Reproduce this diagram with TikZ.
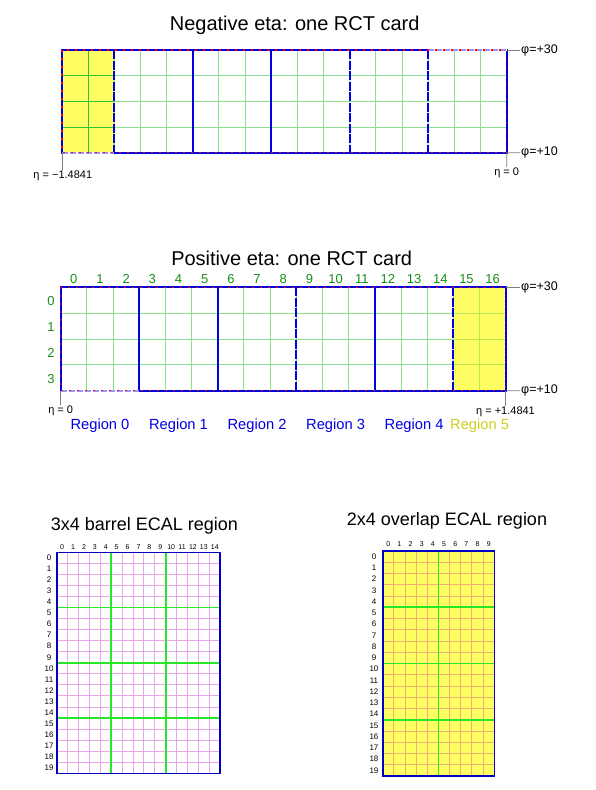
\documentclass[tikz,border=0pt]{standalone}
\usepackage{fontspec}
\setmainfont{Liberation Sans}
\usetikzlibrary{positioning,calc}
\definecolor{regblue}{RGB}{0,0,225}
\definecolor{paleblue}{RGB}{150,150,255}
\definecolor{cardyellow}{RGB}{255,255,100}
\definecolor{litegreen}{RGB}{140,225,140}
\definecolor{midgreen}{RGB}{50,195,50}
\definecolor{limegreen}{RGB}{185,235,80}
\definecolor{labgreen}{RGB}{25,140,25}
\definecolor{olive}{RGB}{205,205,30}
\definecolor{pinkgrid}{RGB}{235,165,235}
\definecolor{ecalgreen}{RGB}{40,230,40}
\definecolor{salmon}{RGB}{240,175,115}
\definecolor{ecalblue}{RGB}{0,0,190}

\begin{document}
\begin{tikzpicture}[x=1pt, y=-1pt,
    regline/.style={regblue, line width=2pt},
    reggap/.style={regblue, line width=2pt, dash pattern=on 9pt off 1.5pt},
    paleedge/.style={paleblue, line width=2pt, dash pattern=on 6pt off 2pt},
    redtick/.style={red, line width=1.3pt, dash pattern=on 1.5pt off 6.5pt},
    tickline/.style={gray, line width=0.8pt},
    gridline/.style={line width=1pt},
    titlelab/.style={font=\fontsize{20}{24}\selectfont, anchor=base},
    ecaltitle/.style={font=\fontsize{18}{21}\selectfont, anchor=base},
    philab/.style={font=\fontsize{12.5}{14}\selectfont, anchor=west, inner sep=1pt},
    etalab/.style={font=\fontsize{11}{13}\selectfont, inner sep=1pt},
    cardnum/.style={labgreen, font=\fontsize{13}{15}\selectfont},
    reglab/.style={font=\fontsize{14.7}{17}\selectfont, anchor=base},
    ecalnum/.style={font=\fontsize{7}{8}\selectfont, inner sep=0pt},
    ecalrow/.style={font=\fontsize{8}{9}\selectfont, inner sep=0pt},
    ecalline/.style={ecalgreen, line width=1.6pt},
    ecalbox/.style={ecalblue, line width=1.6pt}]
    \useasboundingbox (0,0) rectangle (596,790);

    % Negative eta: one RCT card (17 x 4 towers)
    \node[titlelab] (negtitle) at (294.7,30) {Negative eta: one RCT card};
    \begin{scope}[shift={(62,50)}, x=26.16pt, y=-25.67pt]
        \fill[cardyellow] (0,0) rectangle (2,4);
        \foreach \i in {2,...,16} \draw[gridline, litegreen] (\i,0) -- (\i,4);
        \foreach \j in {1,2,3} \draw[gridline, litegreen] (2,\j) -- (17,\j);
        \draw[gridline, midgreen] (1,0) -- (1,4);
        \foreach \j in {1,2,3} \draw[gridline, midgreen] (0,\j) -- (2,\j);
        % region borders
        \draw[regline] (0,0) rectangle (17,4);
        \foreach \i in {5,8} \draw[regline] (\i,0) -- (\i,4);
        \foreach \i in {2,11,14} \draw[reggap] (\i,0) -- (\i,4);
        \draw[white, line width=2pt] (0,4) -- (2,4) (14,0) -- (17,0);
        \draw[paleedge] (0,4) -- (2,4);
        \draw[paleedge] (14,0) -- (17,0);
        \draw[redtick] (0,0) rectangle (17,4);
        \coordinate (negSW) at (0,4);
        \coordinate (negNE) at (17,0);
        \coordinate (negSE) at (17,4);
    \end{scope}
    \node[philab] (negphihi) at (520,50) {φ=+30};
    \node[philab] (negphilo) at (520,152.7) {φ=+10};
    \draw[tickline] (negNE) -- (negphihi.west);
    \draw[tickline] (negSE) -- (negphilo.west);
    \node[etalab] (negetalo) at (62.8,176) {η = −1.4841};
    \node[etalab] (negetahi) at (506.7,173) {η = 0};
    \draw[tickline] (negSW) -- (negSW |- negetalo.north);
    \draw[tickline] (negSE) -- (negetahi.north);

    % Positive eta: one RCT card (17 x 4 towers)
    \node[titlelab] (postitle) at (291.7,265) {Positive eta: one RCT card};
    \begin{scope}[shift={(60.7,287.3)}, x=26.18pt, y=-25.85pt]
        \fill[cardyellow] (15,0) rectangle (17,4);
        \foreach \i in {1,...,15} \draw[gridline, litegreen] (\i,0) -- (\i,4);
        \foreach \j in {1,2,3} \draw[gridline, litegreen] (0,\j) -- (15,\j);
        \draw[gridline, limegreen] (16,0) -- (16,4);
        \foreach \j in {1,2,3} \draw[gridline, limegreen] (15,\j) -- (17,\j);
        % region borders
        \draw[regline] (0,0) rectangle (17,4);
        \foreach \i in {3,6,12} \draw[regline] (\i,0) -- (\i,4);
        \foreach \i in {9,15} \draw[reggap] (\i,0) -- (\i,4);
        \draw[white, line width=2pt] (0,4) -- (3,4);
        \draw[paleedge] (0,4) -- (3,4);
        \draw[redtick] (0,0) rectangle (17,4);
        \coordinate (posSW) at (0,4);
        \coordinate (posNE) at (17,0);
        \coordinate (posSE) at (17,4);
        % tower numbers
        \foreach \i in {0,...,16} \node[cardnum] (pcol\i) at (\i+0.5,-0.31) {\i};
        \foreach \j in {0,...,3} \node[cardnum] (prow\j) at (-0.37,\j+0.55) {\j};
        % region names
        \foreach \r/\c in {0/1.5,1/4.5,2/7.5,3/10.5,4/13.5}
            \node[reglab, regblue] (preg\r) at (\c,5.52) {Region \r};
        \node[reglab, olive] (preg5) at (16,5.52) {Region 5};
    \end{scope}
    \node[philab] (posphihi) at (520,287.3) {φ=+30};
    \node[philab] (posphilo) at (520,390.7) {φ=+10};
    \draw[tickline] (posNE) -- (posphihi.west);
    \draw[tickline] (posSE) -- (posphilo.west);
    \node[etalab] (posetalo) at (60.7,411) {η = 0};
    \node[etalab] (posetahi) at (505.5,411.7) {η = +1.4841};
    \draw[tickline] (posSW) -- (posetalo.north);
    \draw[tickline] (posSE) -- (posSE |- posetahi.north);

    % 3x4 barrel ECAL region (15 x 20 crystals)
    \node[ecaltitle] (bartitle) at (144.4,530) {3x4 barrel ECAL region};
    \begin{scope}[shift={(56.7,552.3)}, x=10.9pt, y=-11.05pt]
        \foreach \i in {1,...,14} \draw[gridline, pinkgrid] (\i,0) -- (\i,20);
        \foreach \j in {1,...,19} \draw[gridline, pinkgrid] (0,\j) -- (15,\j);
        \foreach \i in {5,10} \draw[ecalline] (\i,0) -- (\i,20);
        \foreach \j in {5,10,15} \draw[ecalline] (0,\j) -- (15,\j);
        \draw[ecalbox] (0,0) rectangle (15,20);
        \foreach \i in {0,...,14} \node[ecalnum] (bcol\i) at (\i+0.5,-0.5) {\i};
        \foreach \j in {0,...,19} \node[ecalrow] (brow\j) at (-0.7,\j+0.5) {\j};
    \end{scope}

    % 2x4 overlap ECAL region (10 x 20 crystals)
    \node[ecaltitle] (ovltitle) at (447,525) {2x4 overlap ECAL region};
    \begin{scope}[shift={(382.7,551)}, x=11.16pt, y=-11.25pt]
        \fill[cardyellow] (0,0) rectangle (10,20);
        \foreach \i in {1,...,9} \draw[gridline, salmon] (\i,0) -- (\i,20);
        \foreach \j in {1,...,19} \draw[gridline, salmon] (0,\j) -- (10,\j);
        \draw[ecalline] (5,0) -- (5,20);
        \foreach \j in {5,10,15} \draw[ecalline] (0,\j) -- (10,\j);
        \draw[ecalbox] (0,0) rectangle (10,20);
        \foreach \i in {0,...,9} \node[ecalnum] (ocol\i) at (\i+0.5,-0.6) {\i};
        \foreach \j in {0,...,19} \node[ecalrow] (orow\j) at (-0.78,\j+0.5) {\j};
    \end{scope}
\end{tikzpicture}
\end{document}
